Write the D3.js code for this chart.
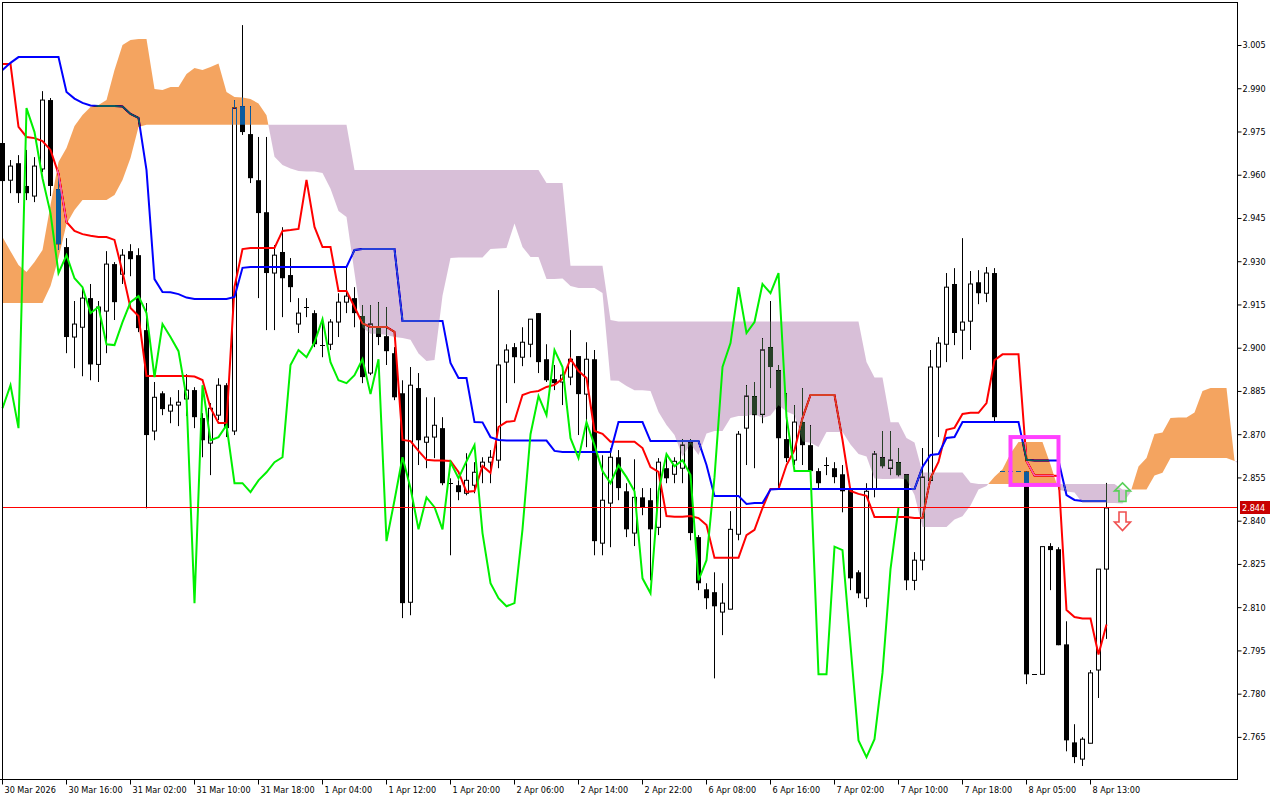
<!DOCTYPE html>
<html><head><meta charset="utf-8">
<script src="https://cdn.jsdelivr.net/npm/d3@7/dist/d3.min.js"></script>
<style>
html,body{margin:0;padding:0;background:#fff;}
svg{display:block;}
text{font-family:"DejaVu Sans Condensed","DejaVu Sans",sans-serif;font-stretch:condensed;font-size:9px;fill:#000;}
text.pl{fill:#fff;}
</style></head><body>
<svg id="c" width="1280" height="800"></svg>
<script>
// ---- DATA (H1 bars) ----
const xLabels = ["30 Mar 2026","30 Mar 16:00","31 Mar 02:00","31 Mar 10:00","31 Mar 18:00","1 Apr 04:00","1 Apr 12:00","1 Apr 20:00","2 Apr 06:00","2 Apr 14:00","2 Apr 22:00","6 Apr 08:00","6 Apr 16:00","7 Apr 02:00","7 Apr 10:00","7 Apr 18:00","8 Apr 05:00","8 Apr 13:00"];
const xLabelBars = [0,8,16,24,32,40,48,56,64,72,80,88,96,104,112,120,128,136];
const yTicks = [3.005,2.990,2.975,2.960,2.945,2.930,2.915,2.900,2.885,2.870,2.855,2.840,2.825,2.810,2.795,2.780,2.765];

const open = [2.9710,2.9581,2.9640,2.9561,2.9526,2.9620,2.9859,2.9550,2.9349,2.9037,
 2.9071,2.9172,2.8942,2.9127,2.9290,2.9255,2.9335,2.9321,2.9061,2.8711,
 2.8842,2.8780,2.8801,2.8822,2.8853,2.8756,2.8669,2.8766,2.8870,2.8711,
 2.9838,2.9741,2.9581,2.9470,2.9259,2.9332,2.9252,2.9082,2.9141,2.9120,
 2.9012,2.9012,2.9089,2.9158,2.9172,2.9110,2.8912,2.9071,2.9040,2.8981,
 2.8842,2.8117,2.8860,2.8672,2.8690,2.8721,2.8530,2.8523,2.8495,2.8523,
 2.8586,2.8603,2.8610,2.8950,2.9002,2.8967,2.9012,2.9120,2.8960,2.8891,
 2.8881,2.8898,2.8971,2.8839,2.8960,2.8322,2.8461,2.8620,2.8502,2.8357,
 2.8481,2.8471,2.8377,2.8582,2.8561,2.8582,2.8672,2.8343,2.8162,2.8152,
 2.8083,2.8093,2.8353,2.8721,2.8832,2.8769,2.9002,2.8922,2.8683,2.8610,
 2.8742,2.8662,2.8572,2.8593,2.8582,2.8561,2.8506,2.8221,2.8131,2.8509,
 2.8620,2.8582,2.8603,2.8561,2.8193,2.8263,2.8540,2.8933,2.9012,2.9221,
 2.9061,2.9092,2.9227,2.9189,2.9259,2.8572,2.8572,2.8572,2.8570,2.7867,
 2.7867,2.8312,2.8301,2.7971,2.7631,2.7573,2.7628,2.7882,2.8232];
const high = [2.9720,2.9651,2.9668,2.9686,2.9661,2.9890,2.9866,2.9592,2.9380,2.9162,
 2.9207,2.9221,2.9162,2.9335,2.9297,2.9342,2.9359,2.9345,2.9155,2.8881,
 2.8849,2.8828,2.8853,2.8908,2.8863,2.8773,2.8808,2.8894,2.8877,2.9859,
 3.0119,2.9838,2.9731,2.9731,2.9356,2.9418,2.9311,2.9172,2.9172,2.9130,
 2.9096,2.9099,2.9189,2.9280,2.9210,2.9148,2.9148,2.9158,2.9141,2.9002,
 2.8887,2.8933,2.8912,2.8828,2.8828,2.8759,2.8547,2.8540,2.8634,2.8603,
 2.8620,2.8645,2.9200,2.9012,2.9016,2.9071,2.9099,2.9120,2.9012,2.8940,
 2.8929,2.9061,2.8971,2.9019,2.8992,2.8627,2.8652,2.8645,2.8530,2.8613,
 2.8513,2.8513,2.8617,2.8631,2.8620,2.8683,2.8683,2.8350,2.8183,2.8221,
 2.8183,2.8433,2.8711,2.8870,2.8881,2.9033,2.9162,2.8940,2.8842,2.8801,
 2.8860,2.8731,2.8582,2.8620,2.8603,2.8593,2.8513,2.8228,2.8530,2.8641,
 2.8711,2.8711,2.8652,2.8561,2.8291,2.8652,2.8992,2.9037,2.9259,2.9276,
 2.9380,2.9266,2.9269,2.9280,2.9276,2.8572,2.8572,2.8572,2.8572,2.7867,
 2.8310,2.8322,2.8308,2.8051,2.7694,2.7649,2.7882,2.8232,2.8531];
const low = [2.9564,2.9536,2.9502,2.9512,2.9505,2.9609,2.9526,2.9339,2.8981,2.8929,
 2.8901,2.8887,2.8881,2.8981,2.9096,2.9221,2.9248,2.9054,2.8443,2.8679,
 2.8766,2.8738,2.8728,2.8763,2.8721,2.8620,2.8558,2.8749,2.8690,2.8697,
 2.9738,2.9571,2.9172,2.9061,2.9061,2.9106,2.9158,2.9051,2.9106,2.9002,
 2.8967,2.8992,2.9037,2.9120,2.9071,2.8877,2.8905,2.9009,2.8940,2.8818,
 2.8062,2.8072,2.8593,2.8582,2.8617,2.8523,2.8280,2.8471,2.8488,2.8495,
 2.8530,2.8530,2.8582,2.8808,2.8877,2.8936,2.8967,2.8912,2.8881,2.8853,
 2.8801,2.8870,2.8697,2.8655,2.8280,2.8280,2.8308,2.8471,2.8343,2.8312,
 2.8419,2.8193,2.8350,2.8530,2.8530,2.8530,2.8332,2.8159,2.8093,2.7853,
 2.8003,2.8093,2.8332,2.8593,2.8582,2.8738,2.8860,2.8513,2.8603,2.8593,
 2.8593,2.8558,2.8513,2.8558,2.8530,2.8429,2.8159,2.8131,2.8100,2.8481,
 2.8582,2.8558,2.8554,2.8159,2.8159,2.8228,2.8534,2.8690,2.8950,2.9009,
 2.8960,2.8992,2.9151,2.9158,2.8742,2.8572,2.8572,2.8572,2.7833,2.7867,
 2.7867,2.8159,2.7968,2.7600,2.7559,2.7549,2.7628,2.7785,2.7990];
const close = [2.9578,2.9630,2.9536,2.9536,2.9630,2.9859,2.9561,2.9359,2.9037,2.9082,
 2.9172,2.8942,2.9141,2.9290,2.9158,2.9321,2.9307,2.9068,2.8697,2.8828,
 2.8787,2.8801,2.8811,2.8853,2.8759,2.8679,2.8790,2.8870,2.8721,2.9831,
 2.9748,2.9588,2.9467,2.9259,2.9321,2.9241,2.9210,2.9120,2.9141,2.9012,
 2.9009,2.9089,2.9158,2.9179,2.9120,2.8898,2.9082,2.9037,2.8988,2.8828,
 2.8114,2.8870,2.8679,2.8690,2.8731,2.8530,2.8530,2.8499,2.8540,2.8568,
 2.8603,2.8620,2.8940,2.8992,2.8967,2.9019,2.9099,2.8950,2.8887,2.8877,
 2.8905,2.8960,2.8839,2.8960,2.8329,2.8471,2.8620,2.8513,2.8370,2.8481,
 2.8447,2.8370,2.8603,2.8547,2.8606,2.8662,2.8357,2.8183,2.8131,2.8103,
 2.8114,2.8370,2.8700,2.8832,2.8766,2.8992,2.8933,2.8686,2.8617,2.8742,
 2.8662,2.8572,2.8530,2.8592,2.8551,2.8502,2.8200,2.8148,2.8502,2.8631,
 2.8589,2.8610,2.8558,2.8193,2.8263,2.8551,2.8933,2.9016,2.9210,2.9051,
 2.9089,2.9221,2.9189,2.9259,2.8759,2.8572,2.8572,2.8572,2.7867,2.7867,
 2.8310,2.8298,2.7968,2.7638,2.7580,2.7642,2.7872,2.8232,2.8444];

// Tenkan-sen (red) and Kijun-sen (blue), one value per bar
const tenkan = [2.9984,2.9984,2.9766,2.9731,2.9727,2.9717,2.9686,2.9603,2.9436,2.9405,
 2.9394,2.9388,2.9384,2.9384,2.9374,2.9263,2.9138,2.9110,2.8902,2.8902,
 2.8902,2.8902,2.8902,2.8902,2.8900,2.8888,2.8791,2.8739,2.8739,2.9211,
 2.9342,2.9346,2.9346,2.9346,2.9346,2.9405,2.9408,2.9412,2.9582,2.9419,
 2.9349,2.9349,2.9197,2.9197,2.9141,2.9084,2.9072,2.9072,2.9072,2.9055,
 2.8680,2.8676,2.8642,2.8611,2.8609,2.8609,2.8607,2.8569,2.8500,2.8503,
 2.8590,2.8566,2.8725,2.8743,2.8746,2.8836,2.8846,2.8850,2.8864,2.8871,
 2.8892,2.8961,2.8919,2.8895,2.8711,2.8701,2.8674,2.8674,2.8674,2.8674,
 2.8652,2.8586,2.8569,2.8416,2.8414,2.8414,2.8416,2.8409,2.8385,2.8271,
 2.8271,2.8271,2.8271,2.8350,2.8368,2.8444,2.8510,2.8510,2.8593,2.8645,
 2.8756,2.8836,2.8836,2.8836,2.8836,2.8680,2.8503,2.8493,2.8486,2.8413,
 2.8413,2.8413,2.8413,2.8413,2.8409,2.8409,2.8548,2.8604,2.8715,2.8722,
 2.8770,2.8774,2.8774,2.8808,2.8957,2.8977,2.8977,2.8977,2.8607,2.8557,
 2.8557,2.8557,2.8555,2.8090,2.8066,2.8061,2.8061,2.7936,2.8040];
const kijun = [2.9963,2.9988,3.0008,3.0008,3.0008,3.0008,3.0008,3.0008,2.9887,2.9864,
 2.9849,2.9840,2.9838,2.9838,2.9838,2.9837,2.9811,2.9797,2.9616,2.9238,
 2.9193,2.9192,2.9186,2.9174,2.9169,2.9169,2.9169,2.9169,2.9169,2.9176,
 2.9277,2.9280,2.9280,2.9280,2.9280,2.9280,2.9280,2.9280,2.9280,2.9280,
 2.9280,2.9280,2.9280,2.9280,2.9339,2.9342,2.9342,2.9342,2.9342,2.9342,
 2.9093,2.9093,2.9093,2.9093,2.9093,2.9093,2.8947,2.8895,2.8895,2.8742,
 2.8741,2.8690,2.8680,2.8678,2.8678,2.8678,2.8678,2.8678,2.8678,2.8642,
 2.8638,2.8638,2.8638,2.8638,2.8638,2.8638,2.8638,2.8742,2.8742,2.8742,
 2.8742,2.8676,2.8676,2.8676,2.8676,2.8676,2.8676,2.8676,2.8593,2.8486,
 2.8486,2.8486,2.8486,2.8458,2.8461,2.8461,2.8508,2.8510,2.8510,2.8510,
 2.8510,2.8510,2.8510,2.8510,2.8510,2.8510,2.8510,2.8510,2.8510,2.8510,
 2.8510,2.8510,2.8510,2.8510,2.8510,2.8586,2.8628,2.8631,2.8687,2.8690,
 2.8742,2.8742,2.8742,2.8742,2.8742,2.8742,2.8742,2.8742,2.8611,2.8609,
 2.8609,2.8609,2.8609,2.8489,2.8472,2.8468,2.8468,2.8468,2.8468];
// Senkou span A / B as plotted (26 bars ahead of the last bar)
const spanA = [2.9384,2.9335,2.9287,2.9263,2.9297,2.9339,2.9495,2.9644,2.9693,2.9769,
 2.9807,2.9835,2.9842,2.9859,2.9963,3.0050,3.0067,3.0071,3.0071,2.9897,
 2.9894,2.9904,2.9904,2.9949,2.9970,2.9963,2.9974,2.9986,2.9887,2.9870,
 2.9868,2.9863,2.9847,2.9806,2.9662,2.9634,2.9622,2.9613,2.9611,2.9611,
 2.9606,2.9551,2.9474,2.9453,2.9259,2.9070,2.9048,2.9048,2.9044,2.9037,
 2.9034,2.9028,2.8980,2.8954,2.8957,2.9180,2.9311,2.9313,2.9313,2.9313,
 2.9313,2.9342,2.9344,2.9346,2.9431,2.9349,2.9315,2.9315,2.9238,2.9238,
 2.9240,2.9214,2.9207,2.9207,2.9207,2.9190,2.8886,2.8885,2.8867,2.8852,
 2.8852,2.8850,2.8777,2.8732,2.8697,2.8623,2.8666,2.8628,2.8702,2.8711,
 2.8711,2.8756,2.8763,2.8763,2.8770,2.8756,2.8765,2.8800,2.8779,2.8767,
 2.8675,2.8670,2.8656,2.8708,2.8708,2.8708,2.8664,2.8631,2.8623,2.8546,
 2.8545,2.8545,2.8546,2.8543,2.8489,2.8378,2.8378,2.8378,2.8378,2.8404,
 2.8415,2.8453,2.8508,2.8520,2.8552,2.8578,2.8633,2.8673,2.8673,2.8673,
 2.8673,2.8595,2.8507,2.8501,2.8498,2.8461,2.8461,2.8461,2.8461,2.8461,
 2.8460,2.8498,2.8588,2.8617,2.8701,2.8706,2.8756,2.8758,2.8758,2.8775,
 2.8850,2.8860,2.8860,2.8860,2.8609,2.8583,2.8583,2.8583,2.8583,2.8290,
 2.8269,2.8265,2.8265,2.8202,2.8254];
const spanB = [2.9155,2.9155,2.9155,2.9155,2.9155,2.9155,2.9214,2.9311,2.9429,2.9478,
 2.9512,2.9512,2.9512,2.9512,2.9530,2.9582,2.9658,2.9766,2.9773,2.9773,
 2.9773,2.9773,2.9773,2.9773,2.9773,2.9773,2.9773,2.9773,2.9773,2.9773,
 2.9773,2.9773,2.9773,2.9773,2.9773,2.9773,2.9773,2.9773,2.9773,2.9773,
 2.9773,2.9773,2.9773,2.9773,2.9616,2.9616,2.9616,2.9616,2.9616,2.9616,
 2.9616,2.9616,2.9616,2.9616,2.9616,2.9616,2.9616,2.9616,2.9616,2.9616,
 2.9616,2.9616,2.9616,2.9616,2.9616,2.9616,2.9616,2.9616,2.9571,2.9571,
 2.9571,2.9284,2.9284,2.9284,2.9284,2.9284,2.9096,2.9091,2.9091,2.9091,
 2.9091,2.9091,2.9091,2.9091,2.9091,2.9091,2.9091,2.9091,2.9091,2.9091,
 2.9091,2.9091,2.9091,2.9091,2.9091,2.9091,2.9091,2.9091,2.9091,2.9091,
 2.9091,2.9091,2.9091,2.9091,2.9091,2.9091,2.9091,2.9091,2.8950,2.8897,
 2.8897,2.8741,2.8741,2.8687,2.8671,2.8567,2.8567,2.8567,2.8567,2.8567,
 2.8567,2.8532,2.8527,2.8527,2.8527,2.8527,2.8527,2.8527,2.8527,2.8527,
 2.8527,2.8527,2.8527,2.8527,2.8527,2.8527,2.8527,2.8527,2.8527,2.8527,
 2.8508,2.8508,2.8508,2.8508,2.8557,2.8566,2.8617,2.8617,2.8617,2.8617,
 2.8617,2.8617,2.8617,2.8617,2.8607,2.8607,2.8607,2.8607,2.8607,2.8491,
 2.8470,2.8465,2.8465,2.8465,2.8465];
const chikouShift = 26;
const bidPrice = 2.8444;
// chart objects
const boxBars = [126,132], boxPrices = [2.8690,2.8524];
const arrowBar = 140, arrowUpPrice = 2.8531, arrowDownPrice = 2.8430;

// ---- DRAWING ----
const W=1280,H=800, plotR=1237, plotB=779;
const svg=d3.select('#c');
svg.append('rect').attr('width',W).attr('height',H).attr('fill','#fff');
const x=d3.scaleLinear().domain([0,138]).range([2.5,1106.5]);
const y=d3.scaleLinear().domain([2.765,3.005]).range([736.9,45]);

svg.append('defs').append('clipPath').attr('id','plot')
  .append('rect').attr('x',0).attr('y',2).attr('width',plotR).attr('height',plotB-2);

const g=svg.append('g').attr('clip-path','url(#plot)').style('isolation','isolate');
g.append('rect').attr('x',0).attr('y',0).attr('width',plotR).attr('height',plotB).attr('fill','#fff');

// candles
const bars=d3.range(close.length);
const cg=g.append('g');
cg.selectAll('line.w').data(bars).join('line').attr('class','w')
  .attr('x1',i=>x(i)).attr('x2',i=>x(i)).attr('y1',i=>y(high[i])).attr('y2',i=>y(low[i]))
  .attr('stroke','#000').attr('stroke-width',1);
bars.forEach(i=>{
  const yo=y(open[i]), yc=y(close[i]);
  const top=Math.min(yo,yc), bot=Math.max(yo,yc), cx=x(i);
  if(bot-top<1.2){
    const yy=Math.round(yc)+0.5;
    cg.append('line').attr('x1',cx-2.5).attr('x2',cx+2.5).attr('y1',yy).attr('y2',yy).attr('stroke','#000');
  } else if(close[i]>=open[i]){
    cg.append('rect').attr('x',cx-2).attr('y',top).attr('width',4).attr('height',bot-top)
      .attr('fill','#fff').attr('stroke','#000').attr('stroke-width',1);
  } else {
    cg.append('rect').attr('x',cx-2.5).attr('y',top).attr('width',5).attr('height',bot-top).attr('fill','#000');
  }
});

const line=d3.line().x((d,i)=>x(i)).y(d=>y(d));
g.append('path').attr('d',line(tenkan)).attr('fill','none').attr('stroke','#ff0000').attr('stroke-width',2);
g.append('path').attr('d',line(kijun)).attr('fill','none').attr('stroke','#0000ff').attr('stroke-width',2);

// cloud (drawn in "difference" mode like the terminal's XOR histogram)
const pts=[];
for(let j=0;j<spanA.length;j++){
  const a=y(spanA[j]), b=y(spanB[j]), xx=x(j);
  if(j>0){
    const a0=y(spanA[j-1]), b0=y(spanB[j-1]), d0=a0-b0, d1=a-b;
    if(d0*d1<0){const t=d0/(d0-d1); const yc=a0+t*(a-a0); pts.push({x:x(j-1)+t*(xx-x(j-1)),a:yc,b:yc});}
  }
  pts.push({x:xx,a:a,b:b});
}
g.append('path').attr('d',d3.area().x(d=>d.x).y0(d=>d.b).y1(d=>Math.min(d.a,d.b))(pts))
  .attr('fill','rgb(11,91,159)').style('mix-blend-mode','difference');
g.append('path').attr('d',d3.area().x(d=>d.x).y0(d=>d.a).y1(d=>Math.min(d.a,d.b))(pts))
  .attr('fill','rgb(39,64,39)').style('mix-blend-mode','difference');

// chikou span
const chik=d3.range(close.length-chikouShift);
g.append('path').attr('d',d3.line().x(i=>x(i)).y(i=>y(close[i+chikouShift]))(chik))
  .attr('fill','none').attr('stroke','#00f000').attr('stroke-width',2);

// bid line
const by=Math.floor(y(bidPrice))+0.5;
svg.append('line').attr('x1',2).attr('x2',plotR).attr('y1',by).attr('y2',by)
  .style('stroke','#ff0000').style('stroke-width','1px');

// rectangle object
svg.append('rect').attr('x',x(boxBars[0])).attr('y',y(boxPrices[0]))
  .attr('width',x(boxBars[1])-x(boxBars[0])).attr('height',y(boxPrices[1])-y(boxPrices[0]))
  .attr('fill','none').attr('stroke','#ff40ff').attr('stroke-width',4);

// arrows
const ax=x(arrowBar), uy=y(arrowUpPrice), dy=y(arrowDownPrice);
svg.append('path').attr('d',`M${ax},${uy} L${ax+8},${uy+8} L${ax+3.5},${uy+8} L${ax+3.5},${uy+18.5} L${ax-3.5},${uy+18.5} L${ax-3.5},${uy+8} L${ax-8},${uy+8} Z`)
  .attr('fill','none').attr('stroke','#5ad05a').attr('stroke-width',1.6);
svg.append('path').attr('d',`M${ax-3.5},${dy} L${ax+3.5},${dy} L${ax+3.5},${dy+10} L${ax+8},${dy+10} L${ax},${dy+18.5} L${ax-8},${dy+10} L${ax-3.5},${dy+10} Z`)
  .attr('fill','none').attr('stroke','#f05050').attr('stroke-width',1.6);

// frame
const fr=svg.append('g').attr('stroke','#000').attr('stroke-width',1);
fr.append('line').attr('x1',2.5).attr('x2',2.5).attr('y1',2).attr('y2',plotB+0.5);
fr.append('line').attr('x1',2).attr('x2',plotR+1).attr('y1',2.5).attr('y2',2.5);
fr.append('line').attr('x1',plotR+0.5).attr('x2',plotR+0.5).attr('y1',2).attr('y2',plotB+1);
fr.append('line').attr('x1',0).attr('x2',plotR+1).attr('y1',plotB+0.5).attr('y2',plotB+0.5);

// axes
const yAx=svg.append('g').attr('transform',`translate(${plotR+0.5},0)`)
  .call(d3.axisRight(y).tickValues(yTicks).tickFormat(d3.format('.3f')).tickSize(4).tickPadding(1).tickSizeOuter(0));
yAx.select('.domain').remove();
const xAx=svg.append('g').attr('transform',`translate(0,${plotB+0.5})`)
  .call(d3.axisBottom(x).tickValues(xLabelBars).tickFormat((d,i)=>xLabels[i]).tickSize(5).tickPadding(2).tickSizeOuter(0).offset(0));
xAx.select('.domain').remove();
xAx.selectAll('text').attr('text-anchor','start').attr('x',2);

// price label
svg.append('rect').attr('x',plotR+3).attr('y',by-6.5).attr('width',30).attr('height',13).attr('fill','#c80000');
svg.append('text').attr('class','pl').attr('x',plotR+5).attr('y',by+3.5).text(d3.format('.3f')(bidPrice));
</script>
</body></html>
